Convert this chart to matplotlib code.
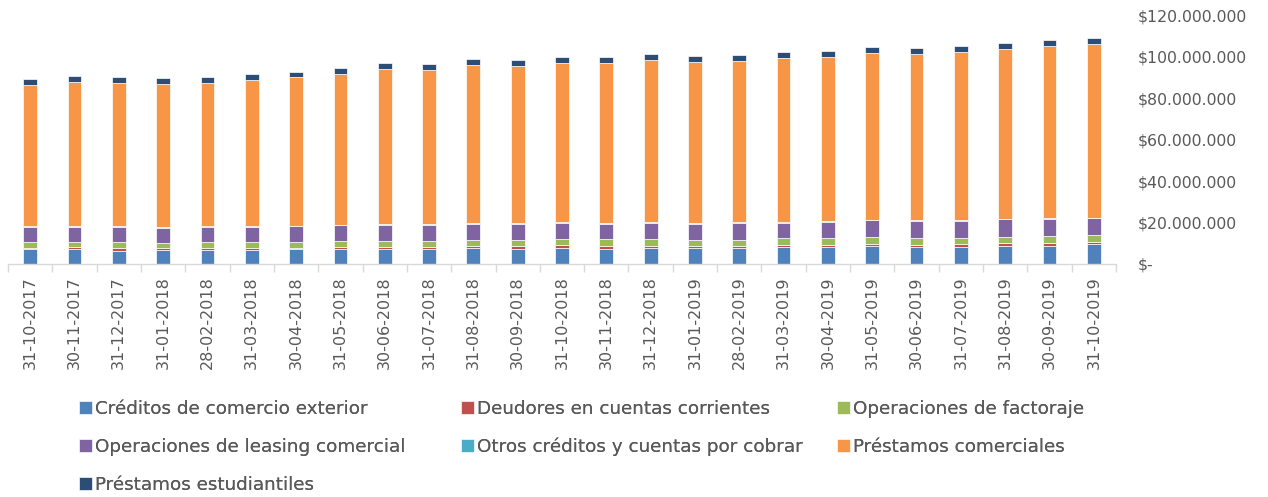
import matplotlib
matplotlib.use("Agg")
import matplotlib.pyplot as plt
from matplotlib.ticker import FuncFormatter, FixedLocator
import numpy as np

dates = ["31-10-2017", "30-11-2017", "31-12-2017", "31-01-2018", "28-02-2018", "31-03-2018",
         "30-04-2018", "31-05-2018", "30-06-2018", "31-07-2018", "31-08-2018", "30-09-2018",
         "31-10-2018", "30-11-2018", "31-12-2018", "31-01-2019", "28-02-2019", "31-03-2019",
         "30-04-2019", "31-05-2019", "30-06-2019", "31-07-2019", "31-08-2019", "30-09-2019",
         "31-10-2019"]

# values in millions of pesos
comercio_exterior = [7.0, 7.0, 6.4, 6.6, 6.6, 6.6, 7.0, 7.1, 7.2, 7.2, 7.9, 7.4, 7.9,
                     7.2, 7.9, 7.9, 7.9, 8.0, 8.2, 8.7, 8.2, 8.3, 8.8, 8.8, 9.5]
deudores_cc = [0.9, 1.0, 1.1, 0.9, 1.2, 1.3, 0.9, 1.1, 1.0, 1.0, 0.9, 1.3, 1.3,
               1.5, 0.9, 0.9, 1.0, 1.2, 1.1, 1.1, 1.1, 1.3, 1.2, 1.3, 1.2]
factoraje = [2.6, 2.8, 3.1, 2.6, 2.7, 2.7, 2.9, 2.9, 3.0, 3.0, 2.9, 2.9, 2.8,
             3.2, 3.4, 2.9, 2.9, 3.2, 3.2, 3.1, 3.2, 2.9, 3.2, 3.5, 3.3]
leasing = [7.2, 7.2, 7.4, 7.4, 7.2, 7.4, 7.3, 7.5, 7.7, 7.5, 7.7, 7.7, 7.9,
           7.5, 7.7, 7.7, 7.9, 7.5, 7.9, 8.1, 8.2, 8.4, 8.3, 8.1, 8.0]
otros = [0.4, 0.4, 0.4, 0.4, 0.4, 0.4, 0.4, 0.4, 0.4, 0.4, 0.4, 0.4, 0.4,
         0.4, 0.4, 0.4, 0.4, 0.4, 0.4, 0.4, 0.4, 0.4, 0.4, 0.4, 0.4]
comerciales = [68.4, 69.4, 68.9, 69.0, 69.2, 70.4, 71.4, 72.7, 74.8, 74.4, 75.9, 75.6, 76.6,
               77.2, 78.0, 77.5, 77.7, 78.8, 78.8, 80.3, 80.0, 80.8, 81.8, 83.0, 83.6]
estudiantiles = [2.7, 2.8, 2.8, 2.7, 2.8, 2.8, 2.8, 2.9, 2.9, 2.9, 2.9, 2.9, 2.9,
                 2.9, 2.9, 2.9, 2.9, 2.9, 2.9, 2.9, 3.0, 3.0, 3.0, 3.0, 2.9]

series = [
    ("Créditos de comercio exterior", comercio_exterior, "#4F81BD"),
    ("Deudores en cuentas corrientes", deudores_cc, "#C0504D"),
    ("Operaciones de factoraje", factoraje, "#9BBB59"),
    ("Operaciones de leasing comercial", leasing, "#8064A2"),
    ("Otros créditos y cuentas por cobrar", otros, "#4BACC6"),
    ("Préstamos comerciales", comerciales, "#F79646"),
    ("Préstamos estudiantiles", estudiantiles, "#2C4D75"),
]

plt.rcParams['font.family'] = ['DejaVu Sans']
TXT = "#595959"

W, H = 1268, 497
fig = plt.figure(figsize=(W / 100, H / 100), dpi=100)
ax = fig.add_axes([8 / W, 1 - 264 / H, (1116 - 8) / W, (264 - 15) / H])

x = np.arange(len(dates))
bottom = np.zeros(len(dates))
handles = {}
for name, vals, col in series:
    v = np.array(vals) * 1e6
    b = ax.bar(x, v, 0.31, bottom=bottom, color=col, edgecolor="#FFFFFF", linewidth=0.5, label=name)
    handles[name] = b
    bottom += v

ax.set_xlim(-0.5, len(dates) - 0.5)
ax.set_ylim(0, 120e6)

ax.set_xticks(x)
ax.set_xticklabels(dates, rotation=90, fontsize=11.5, color=TXT)
ax.xaxis.set_minor_locator(FixedLocator(np.arange(-0.5, len(dates), 1)))
ax.tick_params(axis='x', which='major', length=0, pad=9)
ax.tick_params(axis='x', which='minor', length=6, color="#D9D9D9", width=1)

ax.yaxis.tick_right()
ax.set_yticks(np.arange(0, 120e6 + 1, 20e6))


def fmt(v, pos):
    if v == 0:
        return "$-"
    return "$" + f"{int(round(v)):,}".replace(",", ".")


ax.yaxis.set_major_formatter(FuncFormatter(fmt))
ax.tick_params(axis='y', length=0, pad=16, labelsize=11.3, labelcolor=TXT)

for s in ["top", "left", "right"]:
    ax.spines[s].set_visible(False)
ax.spines["bottom"].set_color("#D9D9D9")
ax.spines["bottom"].set_linewidth(1)

cols = [
    (["Créditos de comercio exterior", "Operaciones de leasing comercial", "Préstamos estudiantiles"], 79),
    (["Deudores en cuentas corrientes", "Otros créditos y cuentas por cobrar"], 461),
    (["Operaciones de factoraje", "Préstamos comerciales"], 837),
]
for names, px in cols:
    leg = fig.legend([handles[n] for n in names], names, loc="upper left",
                     bbox_to_anchor=(px / W, 1 - 400 / H), bbox_transform=fig.transFigure,
                     frameon=False, fontsize=13.2, borderpad=0, borderaxespad=0,
                     handlelength=0.7, handleheight=0.7, handletextpad=0.15,
                     labelspacing=1.08, labelcolor=TXT)
    fig.add_artist(leg)

fig.savefig("out.png", dpi=100)
